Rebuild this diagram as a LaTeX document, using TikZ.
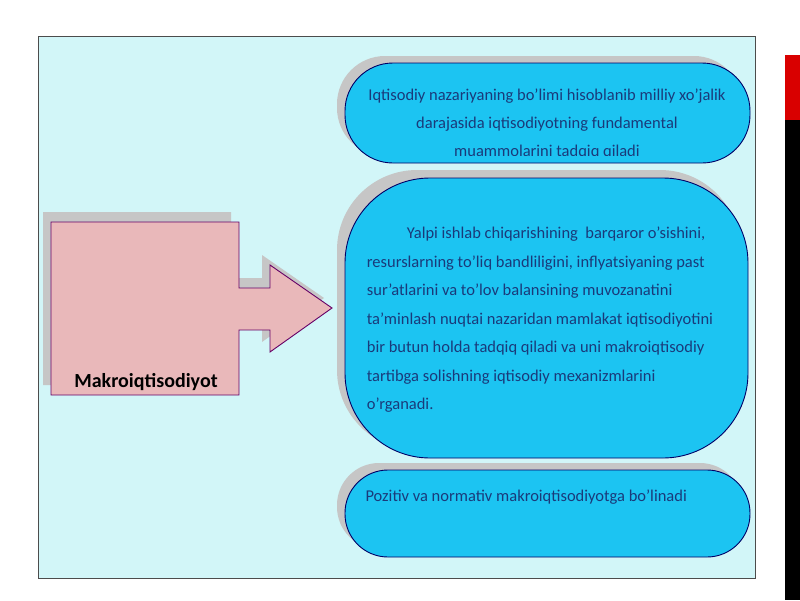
\documentclass[tikz,border=0pt]{standalone}
\usepackage{fontspec}
\setmainfont{Carlito}
\definecolor{bx}{HTML}{1CC4F2}
\definecolor{bg}{HTML}{D2F6F8}
\definecolor{pk}{HTML}{E9B8BA}
\definecolor{tx}{HTML}{1A3A7A}
\begin{document}
\begin{tikzpicture}[x=1pt,y=-1pt,
  box/.style={draw=blue!40!black,line width=0.9pt,fill=bx},
  shad/.style={fill=gray!45},
  txt/.style={text=tx,font=\fontsize{16.5}{28}\selectfont,align=center}]
\useasboundingbox (0,0) rectangle (800,600);
\fill[white] (0,0) rectangle (800,600);
\fill[red!85!black] (785,55) rectangle (800,120);
\fill[black] (785,120) rectangle (800,600);
\draw[black!70,fill=bg] (38,36) rectangle (755,578);
% arrow
\fill[shad] (43,212) -- (231,212) -- (231,278) -- (262,278) -- (262,255) -- (324,298) -- (262,342) -- (262,320) -- (231,320) -- (231,385) -- (43,385) -- cycle;
\draw[violet!80!black,line width=0.9pt,fill=pk] (51,222) -- (239,222) -- (239,288) -- (270,288) -- (270,265) -- (332,308) -- (270,352) -- (270,330) -- (239,330) -- (239,395) -- (51,395) -- cycle;
\node[font=\bfseries\fontsize{20}{24}\selectfont] (m) at (146,382) {Makroiqtisodiyot};
% shadows
\fill[shad,rounded corners=48pt] (337,56) rectangle (742,156);
\fill[shad,rounded corners=80pt] (337,170) rectangle (740,450);
\fill[shad,rounded corners=42pt] (337,463) rectangle (742,549);
% boxes
\draw[box,rounded corners=48pt] (345,63) rectangle (750,163);
\begin{scope}
\clip (345,63) rectangle (750,155);
\node[txt] (t1) at (547,124) {Iqtisodiy nazariyaning bo'limi hisoblanib milliy xo'jalik\\darajasida iqtisodiyotning fundamental\\muammolarini tadqiq qiladi};
\end{scope}
\draw[box,rounded corners=85pt] (345,178) rectangle (748,458);
\node[txt,align=left,font=\fontsize{16.5}{28.5}\selectfont] (t2) at (540,320) {\hspace*{40pt}Yalpi ishlab chiqarishining \ barqaror o'sishini,\\resurslarning to'liq bandliligini, inflyatsiyaning past\\sur'atlarini va to'lov balansining muvozanatini\\ta'minlash nuqtai nazaridan mamlakat iqtisodiyotini\\bir butun holda tadqiq qiladi va uni makroiqtisodiy\\tartibga solishning iqtisodiy mexanizmlarini\\o'rganadi.};
\draw[box,rounded corners=43pt] (345,470) rectangle (750,557);
\node[txt,anchor=west] (t3) at (362,497) {Pozitiv va normativ makroiqtisodiyotga bo'linadi};
\end{tikzpicture}
\end{document}
